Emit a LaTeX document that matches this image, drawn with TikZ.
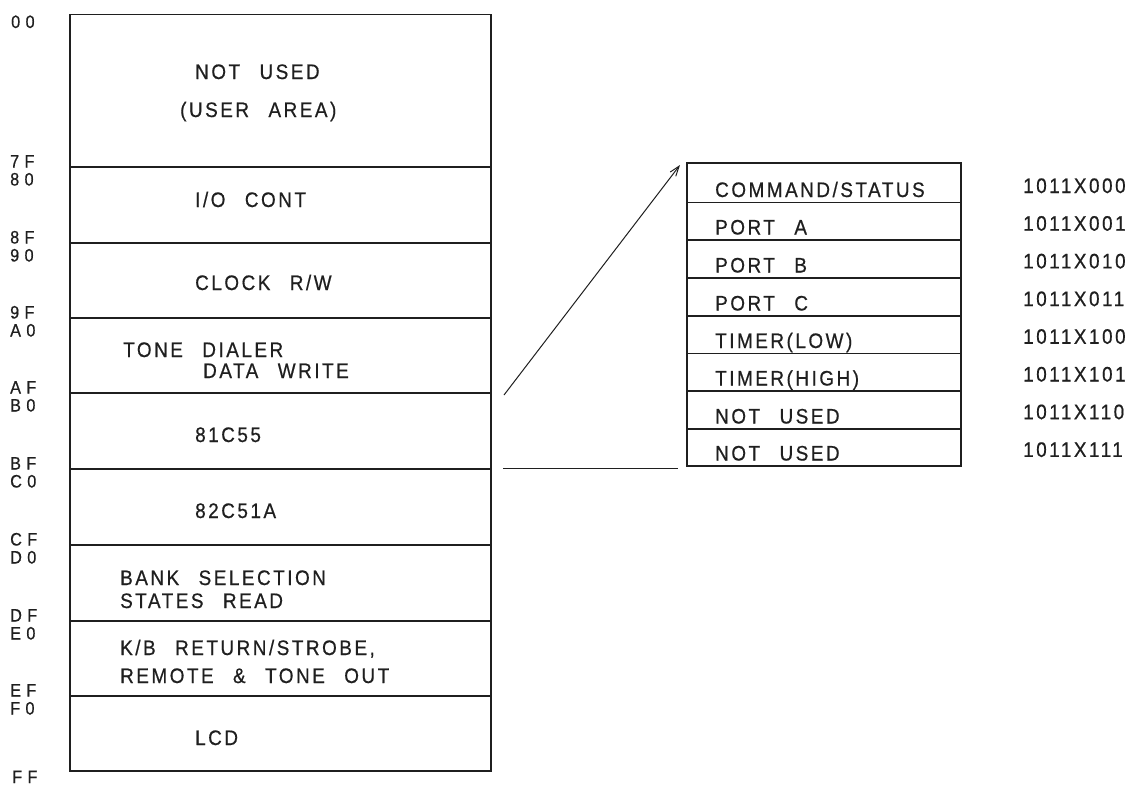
\documentclass[tikz,border=0pt]{standalone}
\usepackage{fontspec}
\setmainfont{Liberation Sans}[FakeStretch=0.9,LetterSpace=12,WordSpace=2.5,FakeBold=0.6]
\newfontfamily\hexfont{Liberation Sans}[FakeStretch=0.9,LetterSpace=30,FakeBold=0.6]
\usetikzlibrary{arrows.meta}

\begin{document}
\begin{tikzpicture}[x=1pt,y=-1pt,
  ink/.style={draw=black!88},
  frame/.style={ink, line width=1.8pt},
  section/.style={ink, line width=1.3pt, rectangle, inner sep=0pt, outer sep=0pt,
    minimum width=421pt, anchor=north west},
  row/.style={ink, line width=1.3pt, rectangle, inner sep=0pt, outer sep=0pt,
    minimum width=274pt, anchor=north west},
  lbl/.style={anchor=base west, inner sep=0pt, text=black!88,
    font=\fontsize{21}{25}\selectfont},
  hex/.style={anchor=base west, inner sep=0pt, text=black!88,
    font=\hexfont\fontsize{18}{20}\selectfont},
  lead/.style={ink, line width=1pt},
]
\fill[white] (0,0) rectangle (1142,785);
\useasboundingbox (0,0) rectangle (1142,785);

% memory map sections (top / bottom of each block)
\foreach \n/\t/\b in {user/14.5/167, io/167/243, clk/243/318, tone/318/393,
    s81/393/469, s82/469/545, bank/545/621, kb/621/696, lcd/696/771}
  \node[section, minimum height={(\b-\t)*1pt}] (\n) at (70,\t) {};
\draw[frame] (user.north west) rectangle (lcd.south east);

% address marks on the left
\node[hex] (h-00) at (11,28) {00};
\foreach \d/\a/\b in {167/7F/80, 243/8F/90, 318/9F/A0, 393/AF/B0,
    469/BF/C0, 545/CF/D0, 621/DF/E0, 696/EF/F0} {
  \node[hex] (h-\a) at (10,\d+0.5) {\a};
  \node[hex] (h-\b) at (10,\d+18.5) {\b};
}
\node[hex] (h-FF) at (12,783) {FF};

% block names
\node[lbl] (t-user1) at (195,79) {NOT USED};
\node[lbl] (t-user2) at (180,117) {(USER AREA)};
\node[lbl] (t-io) at (195,207) {I/O CONT};
\node[lbl] (t-clk) at (195,290) {CLOCK R/W};
\node[lbl] (t-tone1) at (123,357) {TONE DIALER};
\node[lbl] (t-tone2) at (203,378) {DATA WRITE};
\node[lbl] (t-81) at (195,442) {81C55};
\node[lbl] (t-82) at (195,518) {82C51A};
\node[lbl] (t-bank1) at (120,585) {BANK SELECTION};
\node[lbl] (t-bank2) at (120,608) {STATES READ};
\node[lbl] (t-kb1) at (120,655) {K/B RETURN/STROBE,};
\node[lbl] (t-kb2) at (120,683) {REMOTE \& TONE OUT};
\node[lbl] (t-lcd) at (195,745) {LCD};

% 81C55 register table
\foreach \n/\t/\b in {r0/163/202.5, r1/202.5/240, r2/240/278, r3/278/316,
    r4/316/353.5, r5/353.5/391, r6/391/429, r7/429/466}
  \node[row, minimum height={(\b-\t)*1pt}] (\n) at (687,\t) {};
\draw[frame] (r0.north west) rectangle (r7.south east);

\foreach \i/\txt/\adr in {0/{COMMAND/STATUS}/1011X000, 1/PORT A/1011X001,
    2/PORT B/1011X010, 3/PORT C/1011X011, 4/TIMER(LOW)/1011X100,
    5/TIMER(HIGH)/1011X101, 6/NOT USED/1011X110, 7/NOT USED/1011X111} {
  \node[lbl] (reg\i) at ([xshift=28pt,yshift=5.5pt]r\i.south west) {\txt};
  \node[lbl] (adr\i) at (1023,193+37.7*\i) {\adr};
}

% leaders from the 81C55 block to its register table
\draw[lead,-{Straight Barb[length=10pt,width=7pt]}]
  ([xshift=13pt,yshift=-2pt]s81.north east) -- ([xshift=-7pt,yshift=-2pt]r0.north west);
\draw[lead] ([xshift=12pt,yshift=1pt]s81.south east) -- ([xshift=-9pt,yshift=-2pt]r7.south west);
\end{tikzpicture}
\end{document}
